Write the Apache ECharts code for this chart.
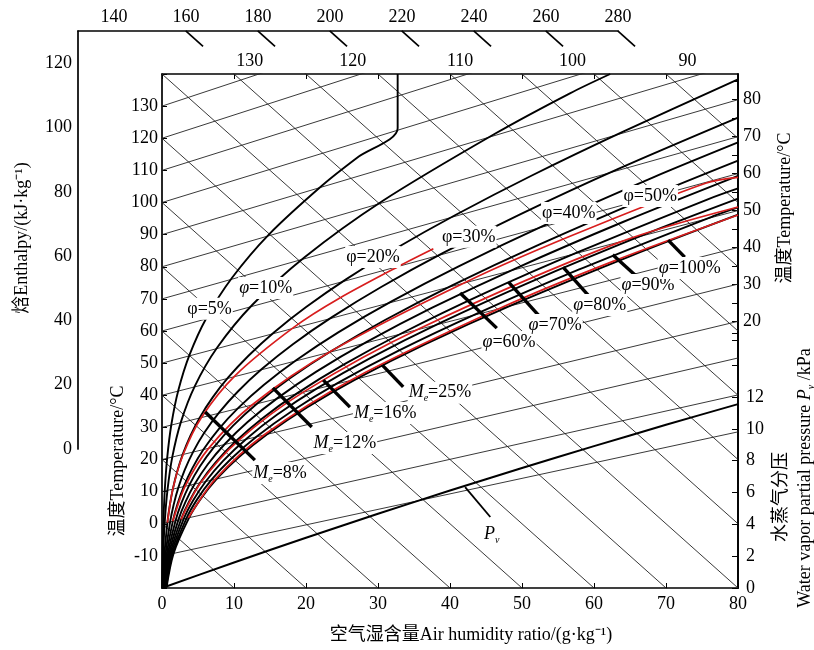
<!DOCTYPE html>
<html>
<head>
<meta charset="utf-8">
<script src="https://cdn.jsdelivr.net/npm/echarts@6/dist/echarts.min.js"></script>
<style>
  html, body { margin: 0; padding: 0; background: #fff; }
  #chart { width: 814px; height: 650px; }
</style>
</head>
<body>
<div id="chart"></div>
<script>
// humidity ratio x (g/kg) on the bottom axis, "v" = left temperature scale
const isoTemps = [-10, 0, 10, 20, 30, 40, 50, 60, 70, 80, 90, 100, 110, 120, 130];
const isoRight = [28.6, 40.1, 51.6, 63.0, 74.6, 86.0, 97.5, 109.0, 120.5, 132.0, 143.4, 155.0, 166.5, 177.9, 189.4];
const topTempLabels = [130, 120, 110, 100, 90];
const topTempX = [12.2, 26.5, 41.4, 57.0, 73.0];

const enthalpyLeft = [0, 20, 40, 60, 80, 100, 120, 140, 160, 180, 200, 220, 240, 260, 280];
const enthalpyRight = [-160, -140, -120, -100, -80, -60, -40, -20, 0, 20, 40, 60, 80, 100, 120];
const enthalpyOuterLeft = [0, 20, 40, 60, 80, 100, 120];
const enthalpyOuterTop = [140, 160, 180, 200, 220, 240, 260, 280];

const rightTempLabels = [20, 30, 40, 50, 60, 70, 80];
const rightTempTicks = [15, 20, 25, 30, 35, 40, 45, 50, 55, 60, 65, 70, 75, 80, 85];
const pvTicks = [0, 2, 4, 6, 8, 10, 12, 14, 16];

const pvX = [0, 10, 20, 30, 40, 50, 60, 70, 80];
const pvKpa = [0, 1.60, 3.16, 4.66, 6.12, 7.54, 8.91, 10.25, 11.55];

const phi5 = [[0.03,-20.1],[0.08,-10.06],[0.19,0.1],[0.38,10.26],[0.72,20.51],[1.30,30.9],[2.27,41.55],[3.82,52.57],[6.19,64.15],[9.73,76.56],[14.9,90.17],[22.32,105.45],[27.1,113.94],[32.73,123.1],[32.73,140]];
const phi10 = [[0.06,-20.07],[0.16,-10.02],[0.37,0.19],[0.76,10.46],[1.44,20.89],[2.62,31.64],[4.56,42.86],[7.67,54.86],[12.49,68.02],[19.76,82.89],[30.52,100.32],[46.3,121.47],[56.66,133.99],[62.25,140]];
const phi20 = [[0.13,-20.04],[0.32,-9.95],[0.75,0.38],[1.07,5.58],[1.51,10.85],[2.10,16.2],[2.89,21.67],[3.92,27.3],[5.26,33.11],[6.99,39.17],[9.2,45.53],[12.01,52.3],[15.54,59.53],[19.97,67.37],[25.5,75.99],[32.34,85.51],[40.82,96.18],[51.3,108.33],[64.2,122.21],[80,138.3]];
const phi30 = [[0.19,-19.99],[0.48,-9.87],[1.13,0.57],[1.61,5.85],[2.27,11.24],[3.16,16.76],[4.34,22.45],[5.89,28.38],[7.92,34.59],[10.54,41.18],[13.9,48.23],[18.18,55.91],[23.61,64.32],[30.44,73.69],[39.05,84.3],[49.81,96.37],[63.3,110.36],[80,126.4]];
const phi40 = [[0.25,-19.98],[0.64,-9.79],[1.50,0.75],[2.15,6.13],[3.03,11.64],[4.22,17.32],[5.80,23.24],[7.88,29.47],[10.6,36.08],[14.13,43.21],[18.68,50.98],[24.48,59.59],[31.88,69.24],[41.27,80.22],[53.17,92.95],[68.23,107.83],[80,118.7]];
const phi50 = [[0.32,-19.95],[0.80,-9.71],[1.88,0.94],[2.69,6.40],[3.79,12.03],[5.28,17.88],[7.27,24.03],[9.88,30.56],[13.31,37.59],[17.77,45.27],[23.52,53.76],[30.91,63.35],[40.37,74.28],[52.45,86.96],[67.92,102.0],[80,113.0]];
const phi60 = [[0.38,-19.92],[0.96,-9.64],[2.26,1.13],[3.23,6.68],[4.56,12.43],[6.34,18.44],[8.73,24.82],[11.89,31.67],[16.04,39.11],[21.44,47.35],[28.44,56.59],[37.46,67.18],[49.07,79.45],[64.02,93.93],[80,108.3]];
const phi70 = [[0.44,-19.89],[1.12,-9.56],[2.64,1.32],[3.77,6.95],[5.32,12.83],[7.42,19.02],[10.21,25.61],[13.92,32.78],[18.8,40.65],[25.16,49.45],[33.43,59.46],[44.15,71.1],[58.02,84.76],[75.98,101.15],[80,104.4]];
const phi80 = [[0.51,-19.87],[1.28,-9.48],[3.02,1.51],[4.32,7.23],[6.09,13.23],[8.49,19.58],[11.7,26.41],[15.96,33.9],[21.58,42.2],[28.92,51.58],[38.5,62.38],[50.97,75.09],[67.2,90.22],[80,101.2]];
const phi90 = [[0.57,-19.84],[1.44,-9.41],[3.40,1.70],[4.86,7.51],[6.86,13.63],[9.57,20.15],[13.2,27.22],[18.02,35.02],[24.38,43.76],[32.73,53.74],[43.66,65.34],[57.94,79.17],[76.64,95.82],[80,98.5]];
const phi100 = [[0.63,-19.8],[1.60,-9.3],[3.77,1.89],[5.40,7.78],[7.63,14.03],[10.65,20.72],[14.70,28.03],[20.08,36.15],[27.2,45.33],[36.58,55.91],[48.89,68.35],[65.05,83.32],[80,96.2]];

// equilibrium moisture content curves (red)
const me8 = [[0.75,0.38],[1.51,10.85],[2.96,21.71],[5.52,33.25],[10.13,46.06],[18.34,61.19],[24.64,70.19],[33.56,80.93],[37.69,85.6]];
const me12 = [[1.50,0.75],[3.22,11.73],[6.53,23.63],[12.63,37.21],[23.52,53.76],[42.53,75.56],[56.75,89.55],[75.5,106.0],[80,107.8]];
const me16 = [[2.64,1.32],[5.42,12.88],[10.57,25.81],[19.79,41.2],[35.86,60.86],[63.5,87.6],[80,98.6]];
const me25 = [[3.66,1.83],[7.40,13.91],[14.25,27.79],[26.36,44.86],[47.31,67.44],[62.9,81.9],[80,96.1]];

// leader bars [x1, v1, x2, v2]
const leaderBars = [
  [41.4, 71.8, 46.5, 60.9], [48.1, 75.3, 52.5, 64.4], [55.7, 79.9, 59.4, 70.6],
  [62.6, 83.7, 65.7, 77.4], [70.3, 88.3, 72.6, 83.0],
  [6.0, 34.8, 12.9, 19.8], [15.4, 42.3, 20.8, 30.1], [22.4, 44.7, 26.1, 36.3], [30.6, 49.4, 33.5, 42.6]
];
const pvLeader = [42.1, 11.4, 45.6, 2.1];

// curve labels [x, v, text]
const curveLabels = [
  [6.6, 66.9, '{t|φ=5%}'], [14.4, 73.4, '{i|φ}{t|=10%}'], [29.3, 83.0, '{t|φ=20%}'],
  [42.6, 89.3, '{t|φ=30%}'], [56.5, 96.7, '{t|φ=40%}'], [67.8, 102.0, '{t|φ=50%}'],
  [48.2, 56.6, '{i|φ}{t|=60%}'], [54.6, 61.9, '{i|φ}{t|=70%}'], [60.8, 68.1, '{i|φ}{t|=80%}'],
  [67.5, 74.3, '{i|φ}{t|=90%}'], [73.3, 79.6, '{i|φ}{t|=100%}'],
  [16.4, 15.8, '{i|M}{s|e}{t|=8%}'], [25.4, 25.1, '{i|M}{s|e}{t|=12%}'],
  [31.0, 34.5, '{i|M}{s|e}{t|=16%}'], [38.6, 40.8, '{i|M}{s|e}{t|=25%}'],
  [45.8, -3.2, '{i|P}{s|v}']
];

const SERIF = '"Liberation Serif", "Times New Roman", "Noto Sans CJK SC", serif';
const FS = 18;
const OUTER_X = -11.67;
const OUTER_V = 153.4;

function line(data, color, width, extra) {
  return Object.assign({
    type: 'line', xAxisIndex: 0, yAxisIndex: 0, data: data, symbol: 'none',
    silent: true, animation: false, lineStyle: { color: color, width: width }, z: 2
  }, extra || {});
}

const series = [];

// enthalpy lines
enthalpyLeft.forEach(function (h, i) {
  series.push(line([[0, h], [80, enthalpyRight[i]]], '#222', 0.9));
});
// isotherms
isoTemps.forEach(function (t, i) {
  series.push(line([[0, t], [80, isoRight[i]]], '#222', 0.9));
});

// relative humidity curves
[phi5, phi10, phi20, phi30, phi40, phi50, phi60, phi70, phi80, phi90, phi100].forEach(function (d) {
  series.push(line(d, '#000', 1.9, { smooth: 0.3, z: 3 }));
});
[me8, me12, me16, me25].forEach(function (d) {
  series.push(line(d, '#d81e1e', 1.7, { smooth: 0.3, z: 4 }));
});

// vapour pressure line
series.push(line(pvX.map(function (x, i) { return [x, pvKpa[i]]; }), '#000', 2, { yAxisIndex: 2, smooth: 0.2, z: 3 }));

// leader bars
leaderBars.forEach(function (b) {
  series.push(line([[b[0], b[1]], [b[2], b[3]]], '#000', 3.4, { z: 5 }));
});
series.push(line([[pvLeader[0], pvLeader[1]], [pvLeader[2], pvLeader[3]]], '#000', 1.8, { z: 5 }));

// outer enthalpy scale ticks (extensions of the enthalpy lines)
enthalpyOuterLeft.forEach(function (h) {
  const v0 = h - 2 * OUTER_X;
  series.push(line([[OUTER_X, v0], [OUTER_X + 2.6, v0 - 5.2]], '#000', 1.7, { clip: false }));
});
enthalpyOuterTop.forEach(function (h) {
  const x0 = (h - OUTER_V) / 2;
  series.push(line([[x0, OUTER_V], [x0 + 2.4, OUTER_V - 4.8]], '#000', 1.7, { clip: false }));
});

// isotherm labels on the top edge
series.push({
  type: 'scatter', xAxisIndex: 0, yAxisIndex: 0, symbolSize: 1, clip: false, silent: true, animation: false,
  itemStyle: { color: 'rgba(0,0,0,0)', opacity: 1 },
  data: topTempLabels.map(function (t, i) { return [topTempX[i], 140, t]; }),
  label: { show: true, position: 'top', distance: 3, formatter: function (p) { return p.data[2]; },
    color: '#000', textBorderWidth: 0, fontSize: FS, fontFamily: SERIF }
});

// curve labels
series.push({
  type: 'scatter', xAxisIndex: 0, yAxisIndex: 0, symbolSize: 1, silent: true, animation: false, z: 6,
  itemStyle: { color: 'rgba(0,0,0,0)', opacity: 1 },
  data: curveLabels,
  label: {
    show: true, position: 'inside', formatter: function (p) { return p.data[2]; },
    color: '#000', textBorderWidth: 0, backgroundColor: '#fff', padding: [0, 1, 0, 1],
    rich: {
      t: { fontSize: FS, fontFamily: SERIF, color: '#000', lineHeight: 22, textBorderWidth: 0 },
      i: { fontSize: FS, fontFamily: SERIF, fontStyle: 'italic', color: '#000', lineHeight: 22, textBorderWidth: 0 },
      s: { fontSize: 10, fontFamily: SERIF, fontStyle: 'italic', color: '#000', verticalAlign: 'bottom', lineHeight: 10, textBorderWidth: 0 }
    }
  }
});

const axisBlack = { onZero: false, lineStyle: { color: '#000', width: 1.7 } };
const labelStyle = { color: '#000', fontSize: FS, fontFamily: SERIF };

const option = {
  animation: false,
  backgroundColor: '#fff',
  grid: [
    { left: 162, right: 76, top: 74, bottom: 62 },
    { left: 78, right: 196, top: 31, bottom: 201 },
    { left: 42, right: 196, top: 31, bottom: 201 }
  ],
  xAxis: [
    { gridIndex: 0, type: 'value', min: 0, max: 80, interval: 10, position: 'bottom',
      axisLine: axisBlack, axisTick: { inside: true, length: 5, lineStyle: { color: '#000' } },
      axisLabel: Object.assign({ margin: 7 }, labelStyle), splitLine: { show: false } },
    { gridIndex: 0, type: 'value', min: 0, max: 80, interval: 10, position: 'top',
      axisLine: axisBlack, axisTick: { inside: true, length: 5, lineStyle: { color: '#000' } },
      axisLabel: { show: false }, splitLine: { show: false } },
    { gridIndex: 1, type: 'value', min: OUTER_X, max: 63.33, position: 'top',
      axisLine: axisBlack, axisTick: { show: false }, axisLabel: { show: false }, splitLine: { show: false } },
    { gridIndex: 2, type: 'value', min: 120, max: 280, interval: 20, position: 'top',
      axisLine: { show: false, onZero: false }, axisTick: { show: false }, splitLine: { show: false },
      axisLabel: Object.assign({ margin: 5, formatter: function (v) { return v === 120 ? '' : v; } }, labelStyle) }
  ],
  yAxis: [
    { gridIndex: 0, type: 'value', min: -20, max: 140, interval: 10, position: 'left',
      axisLine: axisBlack, axisTick: { inside: true, length: 5, lineStyle: { color: '#000' } },
      axisLabel: Object.assign({ margin: 4, formatter: function (v) { return (v <= -20 || v >= 140) ? '' : v; } }, labelStyle),
      splitLine: { show: false } },
    { gridIndex: 0, type: 'value', min: -52.17, max: 86.96, position: 'right',
      axisLine: axisBlack,
      axisTick: { inside: true, length: 6, customValues: rightTempTicks, lineStyle: { color: '#000' } },
      axisLabel: Object.assign({ margin: 5, customValues: rightTempLabels }, labelStyle),
      splitLine: { show: false } },
    { gridIndex: 0, type: 'value', min: 0, max: 32.28, interval: 2, position: 'right',
      axisLine: axisBlack,
      axisTick: { inside: true, length: 6, customValues: pvTicks, lineStyle: { color: '#000' } },
      axisLabel: Object.assign({ margin: 8, formatter: function (v) { return v <= 12 ? v : ''; } }, labelStyle),
      splitLine: { show: false } },
    { gridIndex: 1, type: 'value', min: 0, max: 130.1, interval: 20, position: 'left',
      axisLine: axisBlack, axisTick: { show: false },
      axisLabel: Object.assign({ margin: 6, formatter: function (v) { return v > 120 ? '' : v; } }, labelStyle),
      splitLine: { show: false } },
    { gridIndex: 2, type: 'value', show: false, axisLine: { show: false, onZero: false }, splitLine: { show: false } }
  ],
  graphic: [
    { type: 'text', x: 471, y: 635, style: { text: '空气湿含量Air humidity ratio/(g·kg⁻¹)', font: FS + 'px ' + SERIF, fill: '#000', textAlign: 'center', textVerticalAlign: 'middle' } },
    { type: 'text', x: 22, y: 238, rotation: Math.PI / 2, style: { text: '焓Enthalpy/(kJ·kg⁻¹)', font: FS + 'px ' + SERIF, fill: '#000', textAlign: 'center', textVerticalAlign: 'middle' } },
    { type: 'text', x: 118, y: 461, rotation: Math.PI / 2, style: { text: '温度Temperature/°C', font: FS + 'px ' + SERIF, fill: '#000', textAlign: 'center', textVerticalAlign: 'middle' } },
    { type: 'text', x: 785, y: 208, rotation: Math.PI / 2, style: { text: '温度Temperature/°C', font: FS + 'px ' + SERIF, fill: '#000', textAlign: 'center', textVerticalAlign: 'middle' } },
    { type: 'text', x: 781, y: 497, rotation: Math.PI / 2, style: { text: '水蒸气分压', font: FS + 'px ' + SERIF, fill: '#000', textAlign: 'center', textVerticalAlign: 'middle' } },
    { type: 'text', x: 805, y: 478, rotation: Math.PI / 2, style: {
      text: '{a|Water vapor partial pressure }{i|P}{s|v}{a| /kPa}', font: FS + 'px ' + SERIF, fill: '#000', textAlign: 'center', textVerticalAlign: 'middle',
      rich: {
        a: { fontSize: FS, fontFamily: SERIF, lineHeight: 22 },
        i: { fontSize: FS, fontFamily: SERIF, fontStyle: 'italic', lineHeight: 22 },
        s: { fontSize: 10, fontFamily: SERIF, fontStyle: 'italic', verticalAlign: 'bottom', lineHeight: 10 }
      } } }
  ],
  series: series
};

const chart = echarts.init(document.getElementById('chart'));
chart.setOption(option);
</script>
</body>
</html>
